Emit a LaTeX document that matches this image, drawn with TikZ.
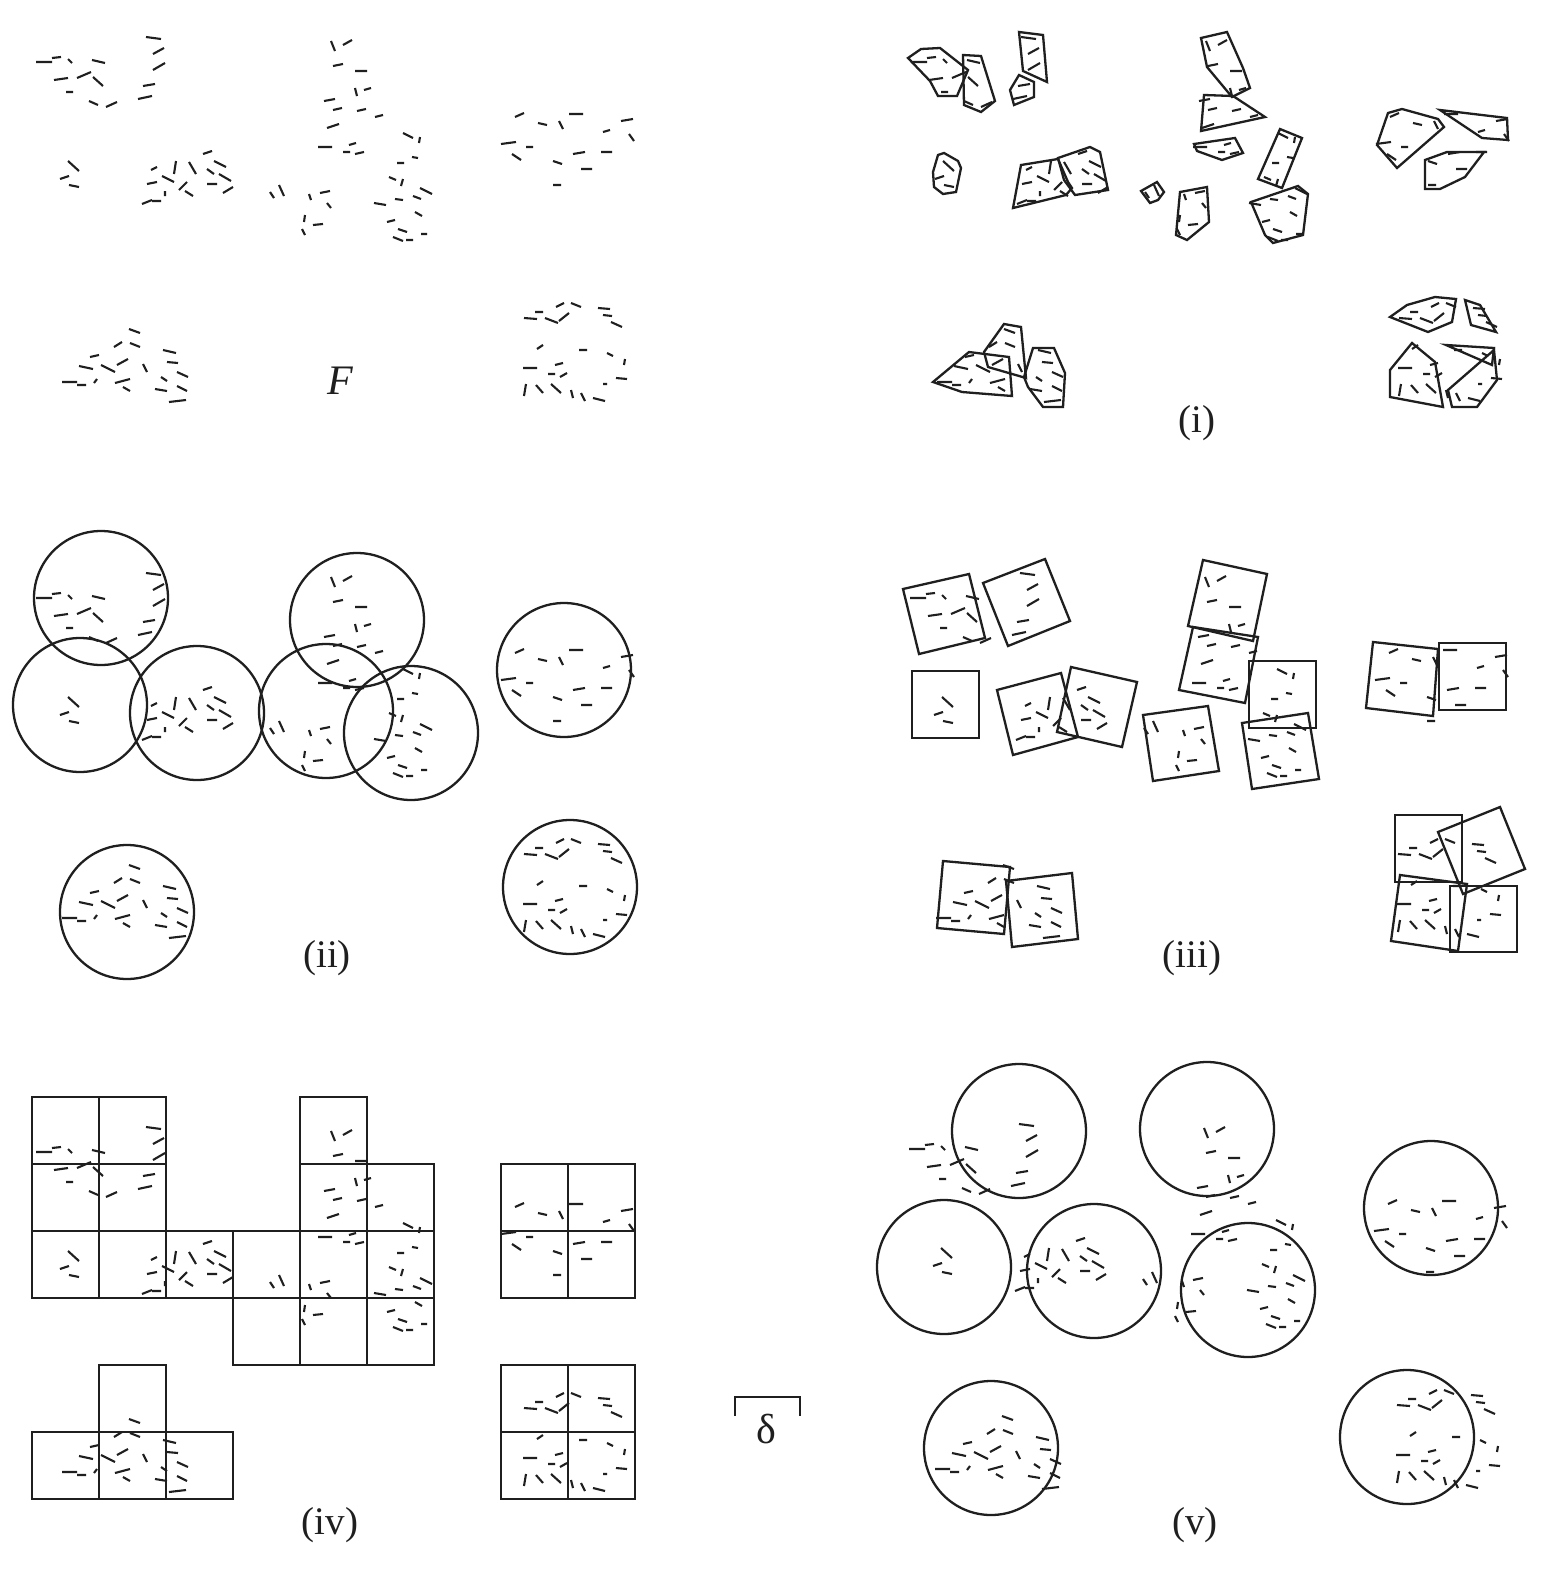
\documentclass[tikz,border=0pt]{standalone}
\usepackage{fontspec}
\setmainfont{Liberation Serif}
\tikzset{
  dsh/.style={line width=2.1pt, line cap=butt, color=black!88},
  shp/.style={line width=2.3pt, line join=miter, color=black!88},
  lab/.style={font=\fontsize{39}{44}\selectfont, inner sep=0pt, text=black!88},
}
\newcommand{\fdashes}[1]{%
\draw[dsh,shift={#1}]
(36,62)--(52,62) (52,58)--(61,57) (68,59)--(72,63) (92,60)--(105,63)
(54,80)--(68,78) (77,78)--(91,72) (93,77)--(103,86) (66,92)--(73,92)
(89,101)--(98,105) (106,107)--(117,102) (146,37)--(161,39) (153,54)--(164,48)
(153,70)--(165,63) (143,86)--(155,84) (138,99)--(152,96)
(68,161)--(79,171) (60,179)--(69,176) (69,185)--(79,187)
(142,204)--(152,200) (152,201)--(161,201) (147,184)--(157,182) (151,170)--(157,167)
(162,176)--(174,182) (176,161)--(174,174) (165,191)--(165,196) (189,162)--(196,174)
(179,190)--(187,182) (185,191)--(193,196) (203,154)--(212,151) (214,161)--(226,167)
(207,169)--(214,174) (219,174)--(231,181) (207,184)--(217,184) (223,193)--(233,187)
(331,41)--(335,51) (343,45)--(352,40) (333,66)--(343,64) (355,71)--(367,71)
(355,88)--(357,96) (364,90)--(371,88) (324,101)--(335,99) (333,110)--(342,108)
(357,111)--(366,109) (375,117)--(383,115) (327,128)--(339,124) (318,147)--(332,147)
(349,145)--(356,143) (343,152)--(350,152) (355,154)--(364,152) (403,133)--(413,138)
(420,137)--(419,143) (412,157)--(418,158) (397,163)--(404,163) (389,177)--(396,180)
(403,179)--(401,186) (420,188)--(432,194) (413,196)--(421,199) (395,199)--(403,200)
(374,203)--(386,205) (415,212)--(422,216) (387,222)--(395,220) (398,229)--(407,232)
(393,237)--(403,241) (406,240)--(413,240) (421,234)--(427,234)
(270,192)--(274,198) (279,185)--(284,196) (309,194)--(311,200) (320,193)--(330,191)
(327,203)--(331,208) (305,215)--(304,222) (313,225)--(323,224) (302,229)--(305,235)
(515,117)--(524,113) (538,123)--(547,125) (559,121)--(563,129) (569,114)--(583,114)
(621,121)--(633,119) (603,132)--(610,130) (629,134)--(634,141) (501,144)--(516,142)
(526,147)--(533,147) (512,154)--(521,160) (553,161)--(562,164) (573,154)--(585,152)
(601,152)--(612,152) (581,169)--(592,169) (553,185)--(561,185)
(129,329)--(140,333) (114,347)--(122,342) (130,343)--(140,347) (90,357)--(99,355)
(163,350)--(176,353) (167,362)--(178,363) (79,366)--(93,369) (101,365)--(115,372)
(117,365)--(128,359) (143,364)--(147,372) (177,372)--(188,377) (62,382)--(77,382)
(77,385)--(86,385) (94,383)--(97,379) (115,383)--(130,379) (123,387)--(130,391)
(161,377)--(167,381) (177,386)--(187,391) (155,389)--(167,391) (169,402)--(186,400)
(556,307)--(564,303) (571,303)--(581,307) (598,308)--(610,309) (603,315)--(612,316)
(611,322)--(622,327) (535,312)--(543,312) (524,318)--(537,319) (545,318)--(558,323)
(559,321)--(569,313) (537,349)--(543,345) (579,350)--(587,350) (607,353)--(613,356)
(625,359)--(624,365) (523,368)--(537,368) (555,365)--(563,363) (548,374)--(555,374)
(560,377)--(567,373) (616,378)--(627,379) (603,384)--(607,384) (526,384)--(524,396)
(536,385)--(543,393) (551,384)--(561,393) (571,390)--(573,398) (581,393)--(585,401)
(593,398)--(605,401);}
\begin{document}
\begin{tikzpicture}[x=1pt,y=-1pt]
\useasboundingbox (0,0) rectangle (1540,1574);
\fill[white] (0,0) rectangle (1540,1574);

% ---------- F ----------
\fdashes{(0,0)}
\node[lab,font=\fontsize{42}{46}\selectfont\itshape] (lF) at (340,381) {F};

% ---------- (i) ----------
\fdashes{(875,0)}
\draw[shp] (908,58)--(921,49)--(940,48)--(968,70)--(957,96)--(938,96)--(930,81)--cycle;
\draw[shp] (963,55)--(981,56)--(995,101)--(981,112)--(964,105)--cycle;
\draw[shp] (1019,32)--(1043,35)--(1047,82)--(1023,71)--cycle;
\draw[shp] (1010,90)--(1019,75)--(1034,82)--(1034,97)--(1014,105)--cycle;
\draw[shp] (933,172)--(938,155)--(944,153)--(958,161)--(961,168)--(956,192)--(943,194)--(934,187)--cycle;
\draw[shp] (1013,208)--(1021,165)--(1058,159)--(1068,182)--(1072,188)--(1066,195)--cycle;
\draw[shp] (1058,158)--(1090,147)--(1100,152)--(1108,190)--(1075,195)--(1064,180)--cycle;
\draw[shp] (1201,38)--(1227,32)--(1243,68)--(1250,88)--(1232,97)--(1207,67)--cycle;
\draw[shp] (1204,95)--(1233,96)--(1265,117)--(1201,131)--cycle;
\draw[shp] (1194,144)--(1235,138)--(1243,153)--(1222,160)--(1197,151)--cycle;
\draw[shp] (1280,129)--(1302,138)--(1282,188)--(1258,179)--cycle;
\draw[shp] (1141,191)--(1157,182)--(1164,192)--(1158,200)--(1150,203)--cycle;
\draw[shp] (1180,192)--(1207,187)--(1209,222)--(1187,240)--(1176,235)--cycle;
\draw[shp] (1251,202)--(1298,186)--(1308,194)--(1303,235)--(1273,243)--(1265,235)--cycle;
\draw[shp] (1377,145)--(1388,113)--(1402,109)--(1438,119)--(1444,127)--(1397,168)--cycle;
\draw[shp] (1440,110)--(1507,118)--(1508,140)--(1482,138)--cycle;
\draw[shp] (1425,160)--(1447,152)--(1484,152)--(1465,177)--(1440,189)--(1425,189)--cycle;
\draw[shp] (933,382)--(969,352)--(1009,357)--(1012,396)--(962,392)--cycle;
\draw[shp] (984,352)--(1004,324)--(1021,327)--(1026,378)--(988,367)--cycle;
\draw[shp] (1033,348)--(1054,348)--(1065,373)--(1063,407)--(1043,407)--(1028,387)--(1024,377)--cycle;
\draw[shp] (1390,317)--(1407,305)--(1435,297)--(1456,299)--(1452,322)--(1428,332)--cycle;
\draw[shp] (1465,300)--(1480,305)--(1496,332)--(1471,325)--cycle;
\draw[shp] (1390,370)--(1412,343)--(1435,362)--(1443,407)--(1390,397)--cycle;
\draw[shp] (1446,345)--(1494,348)--(1492,365)--cycle;
\draw[shp] (1448,390)--(1494,350)--(1497,380)--(1477,407)--(1452,407)--cycle;
\node[lab] (li) at (1197,423) {(i)};

% ---------- (ii) ----------
\fdashes{(0,536)}
\foreach \cx/\cy in {101/598,80/705,197/713,357/620,326/711,411/733,564/670,127/912,570/887}
  \draw[shp] (\cx,\cy) circle[radius=67];
\node[lab] (lii) at (327,958) {(ii)};

% ---------- (iii) ----------
\fdashes{(874,536)}
\draw[shp] (903,589)--(969,574)--(985,638)--(919,654)--cycle;
\draw[shp] (983,583)--(1045,559)--(1070,621)--(1008,646)--cycle;
\draw[shp] (1203,560)--(1267,574)--(1253,641)--(1188,626)--cycle;
\draw[shp] (1193,627)--(1258,637)--(1245,703)--(1179,690)--cycle;
\draw[shp] (912,671)--(979,671)--(979,738)--(912,738)--cycle;
\draw[shp] (997,690)--(1061,673)--(1078,737)--(1013,755)--cycle;
\draw[shp] (1071,667)--(1137,682)--(1122,747)--(1057,732)--cycle;
\draw[shp] (1143,715)--(1208,706)--(1219,771)--(1153,781)--cycle;
\draw[shp] (1249,661)--(1316,661)--(1316,728)--(1249,728)--cycle;
\draw[shp] (1242,723)--(1308,713)--(1319,779)--(1252,789)--cycle;
\draw[shp] (1373,642)--(1438,649)--(1433,716)--(1366,708)--cycle;
\draw[shp] (1439,643)--(1506,643)--(1506,710)--(1439,710)--cycle;
\draw[shp] (943,861)--(1010,867)--(1004,934)--(937,928)--cycle;
\draw[shp] (1006,881)--(1072,873)--(1078,939)--(1012,947)--cycle;
\draw[shp] (1395,815)--(1462,815)--(1462,882)--(1395,882)--cycle;
\draw[shp] (1438,832)--(1500,807)--(1525,869)--(1463,894)--cycle;
\draw[shp] (1400,875)--(1467,884)--(1458,951)--(1391,941)--cycle;
\draw[shp] (1450,886)--(1517,886)--(1517,952)--(1450,952)--cycle;
\node[lab] (liii) at (1192,958) {(iii)};

% ---------- (iv) ----------
\fdashes{(0,1090)}
\foreach \c/\r in {0/0,1/0,4/0, 0/1,1/1,4/1,5/1,7/1,8/1,
                   0/2,1/2,2/2,3/2,4/2,5/2,7/2,8/2,
                   3/3,4/3,5/3, 1/4,7/4,8/4, 0/5,1/5,2/5,7/5,8/5}
  \draw[shp] ({32+67*\c},{1097+67*\r}) rectangle ({32+67*(\c+1)},{1097+67*(\r+1)});
\node[lab] (liv) at (330,1525) {(iv)};

% ---------- delta scale ----------
\coordinate (d1) at (735,1416);
\coordinate (d2) at (735,1397);
\coordinate (d3) at (800,1397);
\coordinate (d4) at (800,1416);
\draw[shp,line width=2pt] (d1)--(d2)--(d3)--(d4);
\node[lab,font=\fontsize{42}{46}\selectfont] (ldelta) at (766,1429) {δ};

% ---------- (v) ----------
\fdashes{(873,1087)}
\foreach \cx/\cy in {1019/1131,1207/1129,1431/1208,944/1267,1094/1271,1248/1290,991/1448,1407/1437}
  \draw[shp] (\cx,\cy) circle[radius=67];
\node[lab] (lv) at (1195,1525) {(v)};
\end{tikzpicture}
\end{document}
